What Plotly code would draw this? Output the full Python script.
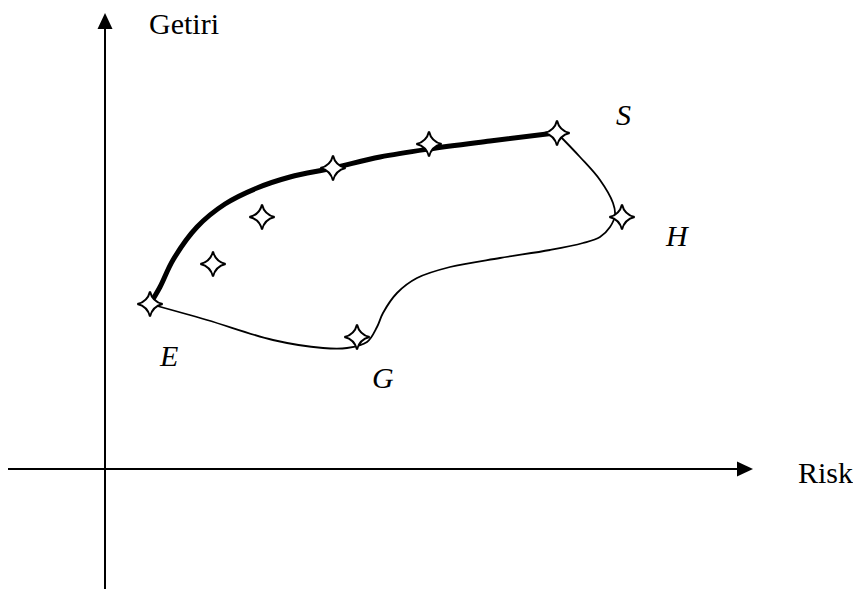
import plotly.graph_objects as go

# The page body adds an 8px margin; figure is sized to fit the 861x596 window
PAD = 8
W, H = 861 - PAD, 596 - PAD
# Page-pixel origin of the axes (where Risk and Getiri axes cross)
OXP, OYP = 105, 469
OX, OY = OXP - PAD, OYP - PAD   # same origin in figure pixels

# Portfolio points (risk, return)
pt_risk   = [45, 108, 157, 228, 324, 452, 517, 252]
pt_return = [165, 205, 252, 301, 325, 336, 252, 132]

# Efficient frontier (thick), E -> S
ef_risk   = [45, 55, 68, 92, 120, 152, 185, 228, 275, 324, 385, 450]
ef_return = [165, 182, 209, 242, 265, 281, 292, 301, 312, 320, 328, 336]

# Opportunity set boundary (thin), E -> G -> H -> S
bd_risk   = [45, 102, 168, 218, 242, 262, 272, 278, 292, 312, 345, 395, 445,
             478, 495, 505, 510, 508, 495, 475, 452]
bd_return = [165, 149, 129, 121, 121, 127, 142, 156, 176, 191, 202, 211, 219,
             226, 232, 242, 254, 266, 289, 312, 336]

labels      = ["S", "H", "E", "G"]
label_risk  = [518, 572, 63, 278]
label_ret   = [355, 234, 114, 92]

FONT = "Liberation Serif, Times New Roman, Times, serif"
FS = 30

fig = go.Figure()
fig.add_trace(go.Scatter(x=bd_risk, y=bd_return, mode="lines",
                         line=dict(color="black", width=1.8, shape="spline", smoothing=1),
                         hoverinfo="skip"))
fig.add_trace(go.Scatter(x=ef_risk, y=ef_return, mode="lines",
                         line=dict(color="black", width=5, shape="spline", smoothing=1),
                         hoverinfo="skip"))
fig.add_trace(go.Scatter(x=pt_risk, y=pt_return, mode="markers",
                         marker=dict(symbol="star-diamond", size=18, color="white",
                                     line=dict(color="black", width=2))))

# axes with arrows (page pixel ends converted to data units)
x_left, x_tip = 8 - OXP, 753 - OXP
y_bottom, y_tip = OYP - 589, OYP - 13
head = 16
half = 7.5
lw = 2
fig.add_shape(type="line", x0=x_left, x1=x_tip - head, y0=0, y1=0,
              line=dict(color="black", width=lw))
fig.add_shape(type="path",
              path=f"M {x_tip-head} {-half} L {x_tip} 0 L {x_tip-head} {half} Z",
              fillcolor="black", line=dict(color="black", width=0))
fig.add_shape(type="line", x0=0, x1=0, y0=y_bottom, y1=y_tip - head,
              line=dict(color="black", width=lw))
fig.add_shape(type="path",
              path=f"M {-half} {y_tip-head} L 0 {y_tip} L {half} {y_tip-head} Z",
              fillcolor="black", line=dict(color="black", width=0))

for t, x, y in zip(labels, label_risk, label_ret):
    fig.add_annotation(x=x, y=y, text=f"<i>{t}</i>", showarrow=False,
                       font=dict(family=FONT, size=FS, color="black"),
                       xanchor="center", yanchor="middle")

fig.add_annotation(x=184 - OXP, y=OYP - 23, text="Getiri", showarrow=False,
                   font=dict(family=FONT, size=FS, color="black"),
                   xanchor="center", yanchor="middle")
fig.add_annotation(x=825 - OXP, y=OYP - 472, text="Risk", showarrow=False,
                   font=dict(family=FONT, size=FS, color="black"),
                   xanchor="center", yanchor="middle")

fig.update_layout(width=W, height=H, margin=dict(l=0, r=0, t=0, b=0),
                  paper_bgcolor="white", plot_bgcolor="white", showlegend=False,
                  xaxis=dict(range=[-OX, W - OX], visible=False, fixedrange=True),
                  yaxis=dict(range=[OY - H, OY], visible=False, fixedrange=True))

fig.write_html("out.html", config={"displayModeBar": False})
